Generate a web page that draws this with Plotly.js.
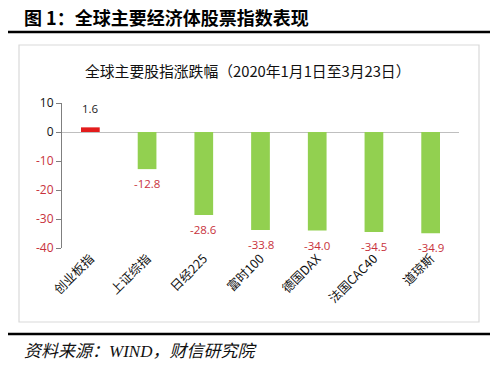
<!DOCTYPE html>
<html><head><meta charset="utf-8">
<script src="https://cdn.plot.ly/plotly-3.0.1.min.js"></script>
<style>html,body{margin:0;padding:0;background:#fff;}#chart{width:500px;height:365px;}</style>
</head><body><div id="chart"></div>
<script>
const categories = ['创业板指','上证综指','日经225','富时100','德国DAX','法国CAC40','道琼斯'];
const values = [1.6, -12.8, -28.6, -33.8, -34.0, -34.5, -34.9];
const labels = ['1.6','-12.8','-28.6','-33.8','-34.0','-34.5','-34.9'];
const yTicks = [10, 0, -10, -20, -30, -40];
const figTitle = '图 1：全球主要经济体股票指数表现';
const chartTitle = '全球主要股指涨跌幅（2020年1月1日至3月23日）';
const sourceText = '资料来源：WIND，财信研究院';

const RED = '#e31c1c', GREEN = '#92d050', LABRED = '#c8323c';
const L = 62, R = 459, T = 103, B = 248;
const px = x => (x - L) / (R - L);
const py = y => (B - y) / (B - T);

const trace = {
  type: 'bar', x: categories, y: values,
  marker: {color: values.map(v => v > 0 ? RED : GREEN)},
  width: 0.33, hoverinfo: 'none'
};

const annotations = values.map((v, i) => ({
  x: categories[i], y: v, xref: 'x', yref: 'y', text: labels[i], showarrow: false,
  yanchor: v >= 0 ? 'bottom' : 'top', yshift: v >= 0 ? 9 : -5,
  font: {family: 'Open Sans, Liberation Sans, sans-serif', size: 11.5, color: v >= 0 ? '#222' : LABRED}
}));
annotations.push(
  {xref:'paper', yref:'paper', x: px(22), y: py(17), xanchor:'left', yanchor:'middle', showarrow:false,
   text: '<b>' + figTitle + '</b>', font:{family:'Noto Sans CJK SC, sans-serif', size:18, color:'#000'}},
  {xref:'paper', yref:'paper', x: px(247), y: py(70), xanchor:'center', yanchor:'middle', showarrow:false,
   text: chartTitle, font:{family:'Noto Sans CJK SC, sans-serif', size:14.8, color:'#111'}},
  {xref:'paper', yref:'paper', x: px(22), y: py(351), xanchor:'left', yanchor:'middle', showarrow:false,
   text: '<i>' + sourceText + '</i>', font:{family:'Liberation Serif, Noto Sans CJK SC, serif', size:17, color:'#111'}}
);

const shapes = [
  {type:'line', xref:'paper', yref:'paper', x0: px(8), x1: px(490), y0: py(32), y1: py(32), line:{color:'#000', width:2.5}},
  {type:'rect', xref:'paper', yref:'paper', x0: px(19), x1: px(479), y0: py(45), y1: py(322), line:{color:'#d9d9d9', width:1.2}},
  {type:'line', xref:'paper', yref:'paper', x0: px(8), x1: px(490), y0: py(334), y1: py(334), line:{color:'#000', width:2.5}}
];

const layout = {
  width: 500, height: 365,
  margin: {l: L, r: 500 - R, t: T, b: 365 - B, pad: 0},
  paper_bgcolor: '#fff', plot_bgcolor: '#fff',
  showlegend: false,
  xaxis: {
    type: 'category', showgrid: false, zeroline: false, showline: false, ticks: '',
    tickangle: -45, tickfont: {family: 'Noto Sans CJK SC, sans-serif', size: 12.5, color: '#111'}
  },
  yaxis: {
    range: [-40, 10], tickvals: yTicks,
    ticktext: yTicks.map(v => v < 0 ? '<span style="color:' + LABRED + '">' + v + '</span>' : String(v)),
    showgrid: false, zeroline: true, zerolinecolor: '#bfbfbf', zerolinewidth: 1,
    showline: true, linecolor: '#7f7f7f', linewidth: 1, ticks: 'outside', ticklen: 5, tickcolor: '#7f7f7f',
    tickfont: {family: 'Open Sans, Liberation Sans, sans-serif', size: 12, color: '#111'}
  },
  annotations: annotations, shapes: shapes
};

Plotly.newPlot('chart', [trace], layout, {staticPlot: true, displayModeBar: false});
</script></body></html>
